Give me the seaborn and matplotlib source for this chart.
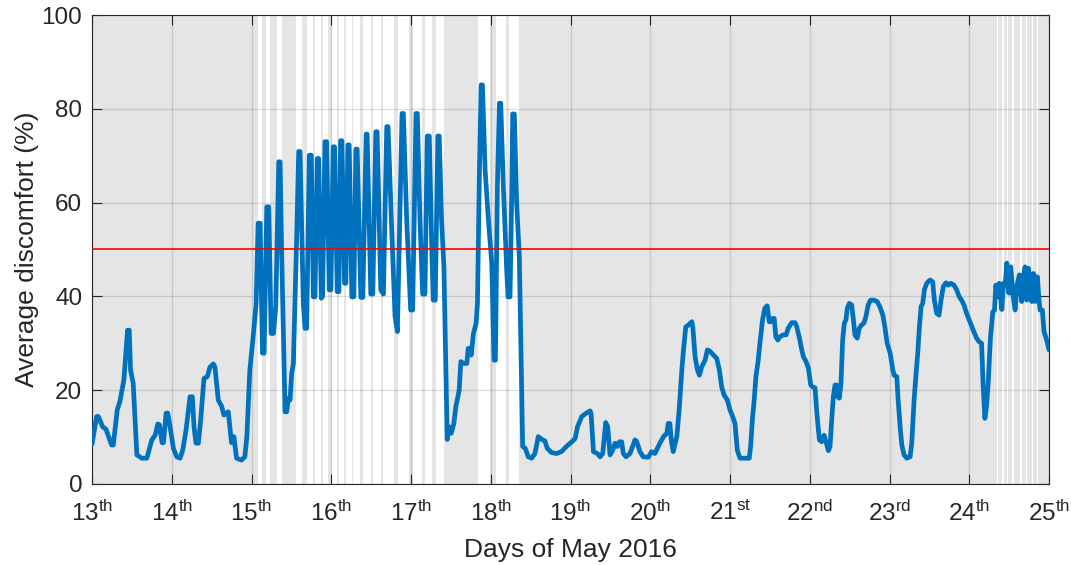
import matplotlib
matplotlib.use("Agg")
import matplotlib.pyplot as plt
import seaborn as sns
import numpy as np
import pandas as pd

# ---------------- data ----------------
# hours since 13 May 2016 00:00, and average discomfort (%)
hours = [
    0.0, 1.4, 1.9, 3.2, 4.2, 5.9, 6.4, 7.6, 8.4, 9.6, 10.7, 11.2, 11.6, 12.4, 13.5, 15.0,
    16.5, 18.0, 19.0, 19.8, 20.3, 21.1, 21.5, 22.3, 22.8, 23.5, 24.5, 25.5, 26.5, 27.3,
    28.3, 29.5, 30.2, 30.7, 31.3, 32.0, 32.7, 33.7, 34.7, 35.5, 36.5, 37.0, 38.0, 39.0,
    39.7, 41.0, 41.5, 42.0, 42.7, 43.5, 45.0, 46.0, 46.6, 47.5, 48.5, 49.4, 50.0, 50.6,
    51.3, 51.8, 52.6, 53.2, 53.9, 54.6, 55.3, 56.2, 56.6, 57.1, 58.1, 58.6, 59.1, 59.6,
    60.1, 60.6, 61.6, 62.2, 62.6, 63.6, 64.1, 64.6, 65.4, 66.0, 66.6, 67.1, 67.8, 68.2,
    69.0, 69.4, 70.1, 70.6, 71.4, 71.9, 72.6, 73.0, 73.8, 74.3, 74.8, 75.2, 76.0, 76.4,
    77.0, 77.4, 78.2, 78.8, 79.4, 79.8, 80.9, 81.5, 82.5, 82.8, 83.9, 84.5, 85.4, 85.8,
    86.9, 87.7, 88.7, 89.1, 90.2, 91.2, 91.9, 93.3, 93.7, 94.7, 95.9, 96.5, 97.5, 97.9,
    98.7, 99.5, 100.2, 100.9, 101.5, 102.3, 102.7, 103.3, 104.1, 104.5, 105.2, 105.9,
    106.9, 107.4, 108.1, 108.9, 109.5, 110.5, 111.0, 111.9, 112.8, 113.2, 113.8, 114.1,
    114.8, 115.6, 116.0, 116.6, 117.1, 117.5, 118.3, 119.3, 120.3, 121.0, 121.4, 122.0,
    122.6, 123.0, 123.8, 124.8, 125.2, 125.8, 126.3, 126.6, 127.1, 127.8, 128.6, 129.6,
    130.4, 131.3, 132.3, 133.3, 134.3, 135.6, 136.3, 137.0, 138.3, 139.8, 141.3, 142.9,
    144.4, 145.4, 146.1, 147.4, 148.7, 149.9, 150.2, 150.9, 152.1, 152.9, 153.7, 154.6,
    155.2, 155.9, 156.7, 157.4, 158.1, 158.7, 159.4, 159.9, 160.7, 161.9, 163.4, 163.9,
    164.9, 165.9, 167.4, 168.4, 169.4, 170.9, 172.1, 173.0, 173.4, 173.9, 174.4, 174.9,
    176.0, 176.7, 177.5, 178.0, 178.7, 179.5, 180.5, 180.8, 181.5, 182.2, 182.8, 183.5,
    184.5, 185.2, 186.0, 187.0, 188.0, 188.8, 189.5, 190.2, 191.2, 192.0, 192.8, 193.5,
    194.2, 195.0, 196.5, 197.8, 198.2, 198.8, 199.2, 199.8, 200.5, 201.0, 201.8, 202.5,
    203.2, 203.8, 204.2, 204.8, 205.3, 205.8, 206.4, 207.0, 208.0, 208.9, 209.5, 210.6,
    211.6, 212.1, 212.9, 213.6, 214.1, 214.9, 215.6, 216.3, 216.9, 217.6, 218.1, 218.9,
    219.6, 220.3, 220.9, 221.6, 222.1, 222.6, 223.1, 223.6, 224.1, 224.4, 224.9, 225.4,
    225.9, 226.4, 226.9, 227.3, 227.9, 228.6, 229.1, 229.6, 230.3, 230.9, 231.6, 232.3,
    232.9, 233.6, 234.3, 235.3, 236.3, 237.1, 238.0, 238.6, 239.3, 240.2, 241.0, 241.4,
    242.2, 242.6, 243.2, 243.7, 244.4, 245.2, 246.2, 246.7, 247.4, 248.0, 248.5, 249.0,
    249.5, 250.0, 250.5, 251.2, 252.2, 253.0, 253.5, 254.2, 254.9, 255.5, 256.2, 257.0,
    257.7, 258.4, 259.4, 260.2, 261.0, 261.7, 262.4, 263.2, 264.2, 265.2, 266.2, 267.0,
    267.7, 268.2, 268.7, 269.2, 269.7, 270.4, 271.1, 271.6, 272.0, 272.6, 273.0, 273.8,
    274.3, 274.8, 275.3, 275.9, 276.5, 277.1, 277.8, 278.4, 279.1, 279.8, 280.3, 280.8,
    281.3, 281.8, 282.3, 282.8, 283.3, 283.8, 284.5, 285.0, 285.3, 286.0, 286.5, 287.3,
    288.0,
]
discomfort = [
    8.5, 14.4, 14.4, 12.2, 11.7, 8.3, 8.3, 15.8, 17.6, 22.2, 32.8, 32.8, 24.3, 21.5, 6.2, 5.5,
    5.5, 9.4, 10.4, 12.8, 12.6, 8.8, 8.8, 15.1, 15.1, 12.2, 7.6, 5.8, 5.5, 7.2,
    11.5, 18.6, 18.6, 12.2, 8.7, 8.7, 13.6, 22.5, 22.9, 24.9, 25.6, 25.0, 17.9, 16.6,
    14.7, 15.4, 12.2, 8.8, 10.1, 5.5, 5.1, 5.8, 10.1, 24.3, 31.4, 38.5, 55.6, 55.6,
    27.9, 27.9, 59.1, 59.1, 32.1, 32.1, 37.8, 68.7, 68.7, 48.5, 15.4, 15.4, 18.3, 17.9,
    23.6, 25.7, 52.7, 70.9, 70.9, 38.5, 33.2, 33.2, 70.1, 70.1, 39.9, 39.9, 69.4, 69.4,
    39.6, 40.0, 73.0, 73.0, 41.4, 41.4, 71.9, 71.9, 41.0, 41.0, 73.2, 73.2, 42.8, 42.8,
    72.3, 72.3, 39.9, 39.9, 71.4, 71.4, 39.8, 39.8, 74.6, 74.6, 40.5, 40.5, 75.1, 75.1,
    41.4, 40.5, 76.2, 76.2, 54.2, 35.7, 32.5, 79.0, 79.0, 56.3, 37.1, 37.1, 79.0, 79.0,
    56.3, 40.5, 40.5, 74.2, 74.2, 48.5, 39.2, 39.2, 74.2, 74.2, 56.3, 46.3,
    9.5, 12.2, 10.8, 12.9, 16.5, 20.0, 26.1, 25.7, 25.7, 28.9, 28.9, 27.5,
    32.1, 34.3, 38.5, 67.0, 85.1, 85.1, 67.0, 56.3, 47.1, 26.4, 26.4, 63.4,
    81.2, 81.2, 63.4, 45.6, 39.9, 39.9, 61.3, 78.9, 78.9, 59.8, 48.5, 8.0,
    7.6, 5.8, 5.5, 6.5, 10.1, 9.4, 9.2, 7.6, 6.7, 6.5, 6.9, 8.1,
    9.0, 9.7, 12.2, 14.4, 15.1, 15.6, 15.0, 6.9, 6.5, 5.8, 6.5, 13.1,
    12.2, 6.2, 7.2, 8.7, 8.0, 9.0, 9.0, 6.5, 5.8, 6.5, 9.4, 9.1,
    6.9, 5.8, 5.7, 6.9, 6.5, 8.7, 10.2, 10.8, 12.9, 12.9, 9.0, 6.9,
    10.1, 15.8, 24.3, 28.6, 33.5, 33.9, 34.6, 33.5, 27.1, 24.3, 23.2, 25.0,
    26.4, 28.6, 28.3, 27.5, 26.8, 24.3, 20.7, 19.0, 17.9, 15.8, 14.4, 12.9,
    7.2, 5.5, 5.5, 5.5, 8.0, 14.4, 17.2, 22.9, 26.4, 30.0, 35.0, 37.5,
    38.0, 34.6, 34.6, 35.3, 35.3, 31.4, 30.7, 31.4, 31.8, 31.8, 33.2, 34.4,
    34.4, 33.5, 31.1, 28.6, 27.1, 26.1, 24.7, 21.1, 20.7, 20.5, 15.4, 9.4,
    9.0, 10.4, 9.0, 7.1, 8.0, 13.6, 18.6, 21.1, 21.1, 18.6, 18.3, 21.5,
    30.7, 34.3, 35.0, 37.5, 38.5, 38.2, 35.3, 31.8, 31.1, 33.2, 33.9, 34.3,
    35.7, 38.2, 39.2, 39.2, 38.9, 37.8, 36.0, 33.5, 30.0, 27.9, 24.3, 23.2,
    22.9, 17.9, 12.2, 8.3, 6.2, 5.5, 5.8, 8.7, 17.9, 23.6, 27.9, 33.5,
    37.8, 38.5, 41.4, 42.8, 43.5, 43.1, 39.2, 36.4, 36.0, 39.2, 42.1, 42.9,
    42.4, 42.8, 42.4, 41.4, 39.9, 39.2, 38.2, 36.4, 34.6, 32.8, 31.1, 30.3,
    30.0, 20.7, 14.0, 16.5, 21.5, 31.4, 36.7, 37.1, 42.4, 39.9, 42.8, 37.2,
    42.8, 42.4, 47.1, 40.7, 46.3, 40.7, 37.1, 42.5, 44.6, 38.9, 44.2, 46.3,
    39.2, 46.0, 42.0, 38.9, 44.9, 38.9, 44.2, 39.2, 37.1, 37.1, 32.5, 30.7,
    28.6,
]

# periods NOT shaded (white gaps in the grey background), in days of May
gap_start = [15.078, 15.178, 15.324, 15.554, 15.692, 15.796, 15.900, 16.013, 16.097,
             16.185, 16.276, 16.394, 16.527, 16.653, 16.841, 17.029, 17.176, 17.310,
             17.836, 18.062, 18.229,
             24.344, 24.414, 24.469, 24.540, 24.636, 24.708, 24.783, 24.846]
gap_end = [15.135, 15.232, 15.379, 15.637, 15.767, 15.871, 15.963, 16.068, 16.160,
           16.256, 16.361, 16.495, 16.624, 16.787, 16.979, 17.134, 17.260, 17.414,
           17.991, 18.191, 18.358,
           24.364, 24.431, 24.489, 24.561, 24.657, 24.728, 24.803, 24.866]

day_ticks = [13, 14, 15, 16, 17, 18, 19, 20, 21, 22, 23, 24, 25]
day_suffix = ["th", "th", "th", "th", "th", "th", "th", "th", "st", "nd", "rd", "th", "th"]
threshold = 50

# ---------------- plot ----------------
sns.set_theme(style="ticks")
plt.rcParams["font.family"] = ["Liberation Sans", "DejaVu Sans"]
plt.rcParams["mathtext.fontset"] = "custom"
plt.rcParams["mathtext.rm"] = "Liberation Sans"
plt.rcParams["mathtext.it"] = "Liberation Sans:italic"

dark = (0.15, 0.15, 0.15)
df = pd.DataFrame({"day": 13 + np.array(hours) / 24.0, "val": discomfort})

fig = plt.figure(figsize=(10.71, 5.65), dpi=100)
ax = fig.add_axes([92 / 1071, 1 - 484 / 565, (1049 - 92) / 1071, (484 - 15) / 565])
ax.set_facecolor("#e5e5e5")

for s, e in zip(gap_start, gap_end):
    ax.axvspan(s, e, color="white", lw=0, zorder=0.1)

ax.set_axisbelow(True)
ax.grid(True, color=dark, alpha=0.15, lw=1.0)

sns.lineplot(data=df, x="day", y="val", ax=ax, color="#0072BD", lw=3.4,
             sort=False, estimator=None, zorder=3)
ax.axhline(threshold, color="red", lw=1.2, zorder=4)

ax.set_xlim(13, 25)
ax.set_ylim(0, 100)
ax.set_xticks(day_ticks)
ax.set_xticklabels([f"{d}$^{{\\mathrm{{{s}}}}}$" for d, s in zip(day_ticks, day_suffix)])
ax.set_yticks([0, 20, 40, 60, 80, 100])

ax.tick_params(axis="both", direction="in", length=7, width=0.8, colors=dark,
               labelsize=17.5, top=True, right=True)
ax.tick_params(axis="x", pad=12)
ax.tick_params(axis="y", pad=7)
for sp in ax.spines.values():
    sp.set_visible(True)
    sp.set_color(dark)
    sp.set_linewidth(0.8)

ax.set_xlabel("Days of May 2016", fontsize=19, color=dark, labelpad=9)
ax.set_ylabel("Average discomfort (%)", fontsize=19, color=dark, labelpad=2)

fig.savefig("out.png", dpi=100)
